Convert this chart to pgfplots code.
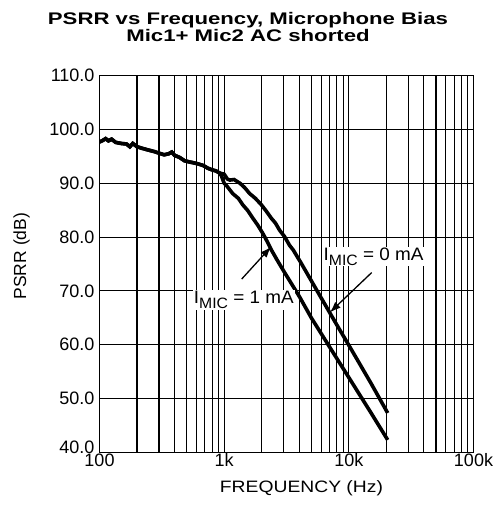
\documentclass[border=0pt]{standalone}
\usepackage{fontspec}
\setmainfont{Liberation Sans}
\newfontfamily\titlefont{Liberation Sans}[FakeStretch=1.32]
\newfontfamily\xlabfont{Liberation Sans}[FakeStretch=1.17]
\newfontfamily\notefont{Liberation Sans}[FakeStretch=1.05]
\usepackage{pgfplots}
\pgfplotsset{compat=1.18}
\usetikzlibrary{arrows.meta}

\newcommand{\imic}{I\raisebox{-0.28em}{\fontsize{15bp}{15bp}\selectfont MIC}}

\begin{document}
\begin{tikzpicture}[font=\fontsize{18bp}{21bp}\selectfont]
\begin{axis}[
  scale only axis,
  width=374bp, height=376.6bp,
  xmode=log, log basis x=10,
  xmin=100, xmax=100000,
  ymin=40, ymax=110,
  xtick={100,1000,10000,100000},
  xticklabels={100,1k,10k,100k},
  ytick={50,60,...,110},
  extra y ticks={40},
  extra y tick style={grid=none, yticklabel style={yshift=5bp}},
  minor xtick={200,300,400,500,600,700,800,900,
    2000,3000,4000,5000,6000,7000,8000,9000,
    20000,30000,40000,50000,60000,70000,80000,90000},
  yticklabel style={xshift=-1.5bp, /pgf/number format/fixed, /pgf/number format/fixed zerofill,
    /pgf/number format/precision=1, /pgf/number format/assume math mode=true},
  xticklabel style={yshift=2bp, /pgf/number format/assume math mode=true},
  major tick length=0pt, minor tick length=0pt,
  grid=both,
  major grid style={black, line width=1.1bp},
  minor grid style={black, line width=1.1bp},
  axis line style={black, line width=1.5bp},
  xlabel={FREQUENCY (Hz)},
  ylabel={PSRR (dB)},
  every axis x label/.style={at={(axis description cs:0.54,-0.095)},anchor=center,
    font=\xlabfont\fontsize{16.5bp}{20bp}\selectfont},
  every axis y label/.style={at={(axis description cs:-0.208,0.521)},rotate=90,anchor=center,
    font=\fontsize{17.5bp}{20bp}\selectfont},
  title={PSRR vs Frequency, Microphone Bias\\Mic1+ Mic2 AC shorted},
  title style={at={(axis description cs:0.397,1)},anchor=south,align=center,yshift=28bp,
    inner sep=0pt, font=\titlefont\bfseries\fontsize{16.8bp}{15.1bp}\selectfont},
]
% I_MIC = 1 mA
\addplot[black, line width=3.6bp] coordinates {
(100,97.7) (105,97.9) (112,98.3) (118,97.9) (125,98.2) (135,97.6) (150,97.4)
(165,97.3) (175,96.8) (185,97.4) (200,96.8) (220,96.5) (245,96.2) (275,95.9)
(300,95.6) (330,95.3) (360,95.5) (380,95.8) (400,95.2) (440,94.8) (480,94.2)
(520,94.0) (570,93.8) (620,93.6) (680,93.3) (740,92.8) (800,92.5) (860,92.3)
(920,91.9) (950,91.4) (1000,90.0) (1050,89.5) (1170,88.1) (1300,87.2) (1410,86.0)
(1550,84.9) (1700,83.5) (1850,82.3) (2040,80.7) (2200,79.3) (2380,77.7)
(2650,75.8) (3000,73.7) (4000,69.0) (5000,65.0) (7000,59.6) (10000,53.9)
(15000,47.4) (20500,42.3)
};
% I_MIC = 0 mA
\addplot[black, line width=3.6bp] coordinates {
(100,97.7) (105,97.9) (112,98.3) (118,97.9) (125,98.2) (135,97.6) (150,97.4)
(165,97.3) (175,96.8) (185,97.4) (200,96.8) (220,96.5) (245,96.2) (275,95.9)
(300,95.6) (330,95.3) (360,95.5) (380,95.8) (400,95.2) (440,94.8) (480,94.2)
(520,94.0) (570,93.8) (620,93.6) (680,93.3) (740,92.8) (800,92.5) (860,92.3)
(920,91.9) (1000,91.7) (1060,90.8) (1110,90.6) (1200,90.7) (1340,90.0)
(1460,89.2) (1600,88.1) (1780,87.2) (1990,86.0) (2180,84.8) (2390,83.5)
(2580,82.6) (2780,81.3) (3050,80.1) (3340,78.5) (3580,77.6) (4160,75.1)
(6000,68.7) (8000,63.7) (10000,59.9) (15000,52.9) (20500,47.3)
};
\node[anchor=base west, fill=white, inner sep=1bp, font=\notefont\fontsize{18bp}{21bp}\selectfont]
  at (axis cs:560,67.6) {\imic{} = 1 mA};
\node[anchor=base west, fill=white, inner sep=1bp, font=\notefont\fontsize{18bp}{21bp}\selectfont]
  at (axis cs:6150,75.7) {\imic{} = 0 mA};
\draw[line width=1.3bp, -{Latex[length=11bp,width=8bp]}] (axis cs:1382,72.2) -- (axis cs:2380,78.2);
\draw[line width=1.3bp, -{Latex[length=11bp,width=8bp]}] (axis cs:15240,73.4) -- (axis cs:7050,66.0);
\end{axis}
\path[use as bounding box] (-99.5bp,-75.7bp) rectangle (397.5bp,452.3bp);
\end{tikzpicture}
\end{document}
